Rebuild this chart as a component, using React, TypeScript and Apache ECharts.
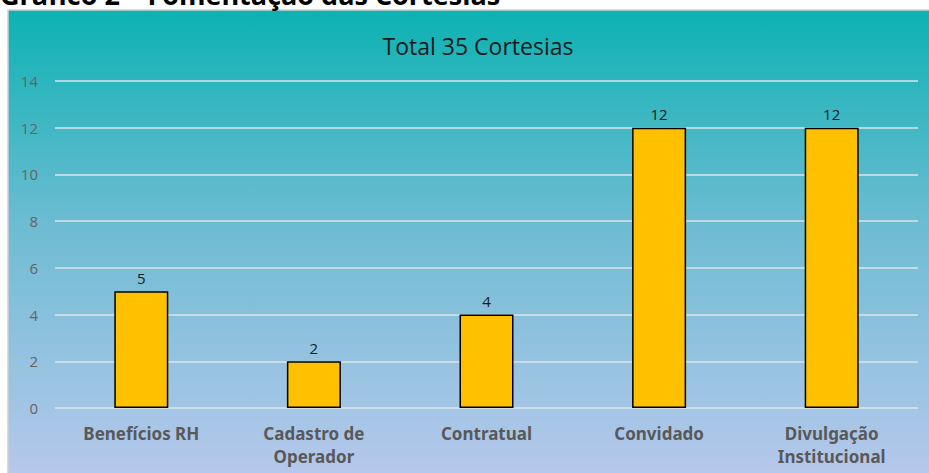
import React, { useEffect, useRef } from "react";
import * as echarts from "echarts";

const categories = ["Benefícios RH", "Cadastro de\nOperador", "Contratual", "Convidado", "Divulgação\nInstitucional"];
const values = [5, 2, 4, 12, 12];
const chartTitle = "Total 35 Cortesias";
const pageHeading = "Gráfico 2 – Fomentação das Cortesias";

export default function App() {
  const ref = useRef<HTMLDivElement>(null);
  useEffect(() => {
    if (!ref.current) return;
    const chart = echarts.init(ref.current, null, { renderer: "svg" });
    chart.setOption({
      animation: false,
      backgroundColor: "#ffffff",
      title: {
        text: chartTitle,
        left: 473,
        textAlign: "center",
        top: 29,
        textStyle: { fontFamily: "Open Sans", fontSize: 23, fontWeight: "normal", color: "#1a1a1a" },
      },
      graphic: [
        {
          type: "rect",
          z: -10,
          silent: true,
          shape: { x: 8, y: 10, width: 930, height: 470 },
          style: {
            fill: new echarts.graphic.LinearGradient(0, 0, 0, 1, [
              { offset: 0, color: "#0cb2b3" },
              { offset: 0.45, color: "#6cbcd2" },
              { offset: 1, color: "#b8c8ec" },
            ]),
            stroke: "#d0d0d0",
            lineWidth: 1.5,
          },
        },
        {
          type: "text",
          left: 0,
          top: -19,
          z: 10,
          style: {
            text: pageHeading,
            fontFamily: "Open Sans",
            fontSize: 27,
            fontWeight: "bold",
            fill: "#000000",
          },
        },
      ],
      grid: { left: 55, right: 11, top: 81, bottom: 65 },
      xAxis: {
        type: "category",
        data: categories,
        axisLine: { show: false },
        axisTick: { show: false },
        axisLabel: {
          margin: 14,
          color: "#595959",
          fontFamily: "Noto Sans",
          fontWeight: "bold",
          fontSize: 17,
          lineHeight: 23,
        },
      },
      yAxis: {
        type: "value",
        min: 0,
        max: 14,
        interval: 2,
        axisLine: { show: false },
        axisTick: { show: false },
        axisLabel: { margin: 17, color: "#646464", fontFamily: "Open Sans", fontSize: 15 },
        splitLine: { lineStyle: { color: "#dde5ea", width: 1.5 } },
      },
      series: [
        {
          type: "bar",
          data: values,
          barWidth: 54,
          itemStyle: { color: "#ffc000", borderColor: "#000000", borderWidth: 1.5 },
          label: {
            show: true,
            position: "top",
            distance: 6,
            color: "#1a1a1a",
            fontFamily: "Open Sans",
            fontSize: 15,
          },
        },
      ],
    });
    return () => chart.dispose();
  }, []);
  return <div ref={ref} style={{ position: "absolute", left: 0, top: 0, width: 929, height: 473 }} />;
}
